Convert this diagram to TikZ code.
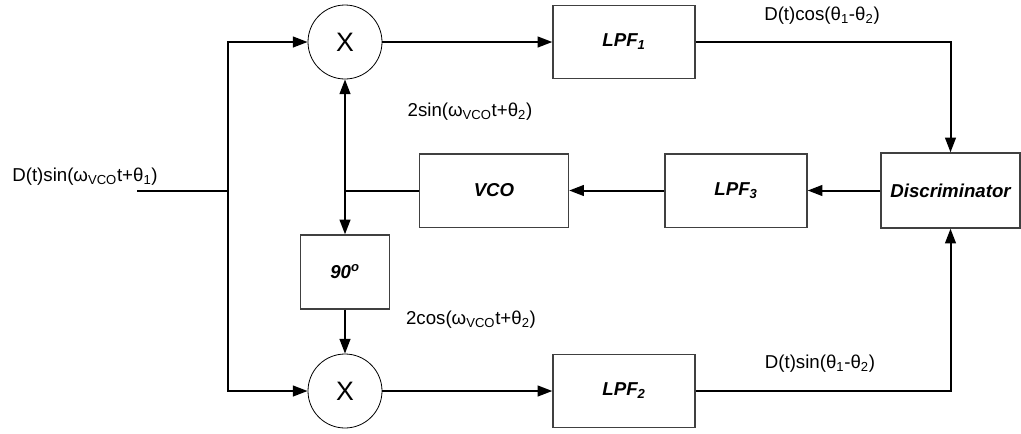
\documentclass[tikz,border=0pt]{standalone}
\usepackage{fontspec}
\setmainfont{Liberation Sans}
\usetikzlibrary{arrows.meta}

\begin{document}
\begin{tikzpicture}[x=0.75pt, y=-0.75pt,
  >={Triangle[length=11pt,width=8pt]},
  block/.style={draw=black!75, line width=1pt, minimum width=106.5pt, minimum height=55pt,
                inner sep=0pt, font=\fontsize{14}{16}\selectfont\bfseries\itshape},
  mixer/.style={draw, circle, line width=0.6pt, minimum size=55.5pt, inner sep=0pt,
                font=\fontsize{20}{22}\selectfont},
  sig/.style={line width=1.5pt},
  lbl/.style={inner sep=0pt, font=\fontsize{14}{16}\selectfont},
]
  \useasboundingbox (0,0) rectangle (1021,433);

  % mixers and filters
  \node[mixer] (mixa) at (345,42)  {X};
  \node[mixer] (mixb) at (345,391) {X};
  \node[block] (lpfa) at (624,42)  {LPF\textsubscript{1}};
  \node[block] (lpfb) at (624,391) {LPF\textsubscript{2}};
  \node[block] (lpfc) at (736,190.5) {LPF\textsubscript{3}};
  \node[block, minimum width=111.75pt] (vco) at (494,190.5) {VCO};
  \node[block, minimum width=104.25pt, minimum height=56.25pt] (disc) at (950.5,190.5) {Discriminator};
  \node[block, minimum width=66.75pt, minimum height=55.5pt] (shift) at (345,272) {90\textsuperscript{o}};

  % signal labels
  \node[lbl] (lin)  at (85,177)  {D(t)sin(ω\textsubscript{VCO}t+θ\textsubscript{1})};
  \node[lbl] (lsin) at (470,112) {2sin(ω\textsubscript{VCO}t+θ\textsubscript{2})};
  \node[lbl] (lcos) at (471,320) {2cos(ω\textsubscript{VCO}t+θ\textsubscript{2})};
  \node[lbl] (lcq)  at (822,16)  {D(t)cos(θ\textsubscript{1}-θ\textsubscript{2})};
  \node[lbl] (lsq)  at (820,364) {D(t)sin(θ\textsubscript{1}-θ\textsubscript{2})};

  % connectors
  \coordinate (inp) at (137,191);
  \coordinate (bus) at (228,191);
  \coordinate (tap) at (vco.west -| mixa);
  \draw[sig] (inp) -- (bus);
  \draw[sig,->] (bus) |- (mixa.west);
  \draw[sig,->] (bus) |- (mixb.west);
  \draw[sig,->] (mixa) -- (lpfa);
  \draw[sig,->] (mixb) -- (lpfb);
  \draw[sig,->] (lpfa.east) -| (disc.north);
  \draw[sig,->] (lpfb.east) -| (disc.south);
  \draw[sig,->] (disc) -- (lpfc);
  \draw[sig,->] (lpfc) -- (vco);
  \draw[sig] (vco.west) -- (tap);
  \draw[sig,->] (tap) -- (mixa.south);
  \draw[sig,->] (tap) -- (shift.north);
  \draw[sig,->] (shift) -- (mixb);
\end{tikzpicture}
\end{document}
